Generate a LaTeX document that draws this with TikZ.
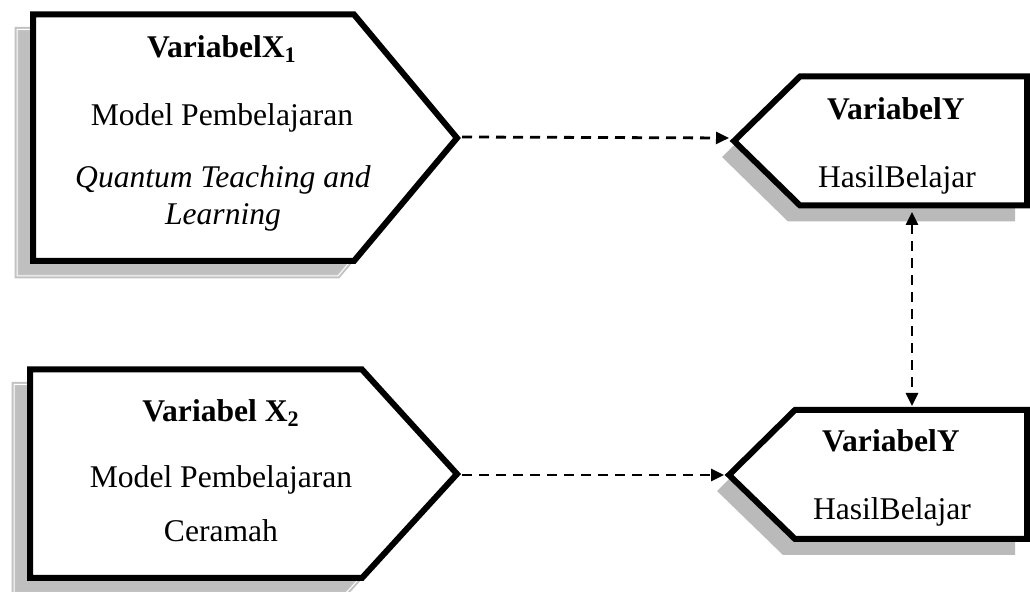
\documentclass[tikz,border=0pt]{standalone}
\usepackage{fontspec}
\setmainfont{Liberation Serif}
\usetikzlibrary{arrows.meta}
\begin{document}
\begin{tikzpicture}[x=0.5pt,y=-0.5pt]
      \tikzstyle{box} = [draw=black, line width=3pt, fill=white, line join=miter]
      \tikzstyle{rim} = [draw=black!24, line width=1pt, double=white, double distance=0.5pt, fill=black!25]
      \tikzstyle{shade} = [fill=black!27]
      \tikzstyle{txt} = [anchor=base, inner sep=0pt, font=\fontsize{15.8pt}{19pt}\selectfont]
      \tikzstyle{edge} = [->, line width=1.4pt, dash pattern=on 5pt off 3.5pt, >={Triangle[length=6.5pt,width=6pt]}]

      \useasboundingbox (0,0) rectangle (1030,592);

      % shadows
      \begin{scope}[shift={(-16,15)}]
        \draw[rim] (33,14.5) -- (354,14.5) -- (457,138) -- (354,261) -- (33,261) -- cycle;
        \draw[rim] (30,369.5) -- (362,369.5) -- (457,474) -- (362,578) -- (30,578) -- cycle;
      \end{scope}
      \begin{scope}[shift={(-12,16)}]
        \fill[shade] (1027,76.5) -- (800,76.5) -- (734,141) -- (800,205.5) -- (1027,205.5) -- cycle;
        \fill[shade] (1027,410) -- (795,410) -- (729,475) -- (795,539) -- (1027,539) -- cycle;
      \end{scope}

      % boxes
      \draw[box] (33,14.5) -- (354,14.5) -- (457,138) -- (354,261) -- (33,261) -- cycle;
      \draw[box] (30,369.5) -- (362,369.5) -- (457,474) -- (362,578) -- (30,578) -- cycle;
      \draw[box] (1027,76.5) -- (800,76.5) -- (734,141) -- (800,205.5) -- (1027,205.5) -- cycle;
      \draw[box] (1027,410) -- (795,410) -- (729,475) -- (795,539) -- (1027,539) -- cycle;

      \coordinate (x1tip) at (462,137);
      \coordinate (x2tip) at (462,475);
      \coordinate (y1tip) at (729,138);
      \coordinate (y2tip) at (724,475);
      \coordinate (y1bot) at (912,212);
      \coordinate (y2top) at (912,406);

      \node[txt] (x1title) at (222,58) {\textbf{VariabelX\textsubscript{1}}};
      \node[txt] (x1model) at (222,126) {Model Pembelajaran};
      \node[txt] (x1qtl) at (223,188) {\textit{Quantum Teaching and}};
      \node[txt] (x1learn) at (223,225) {\textit{Learning}};

      \node[txt] (x2title) at (221,422) {\textbf{Variabel X\textsubscript{2}}};
      \node[txt] (x2model) at (221,488) {Model Pembelajaran};
      \node[txt] (x2ceramah) at (221,542) {Ceramah};

      \node[txt] (y1title) at (896,120) {\textbf{VariabelY}};
      \node[txt] (y1hasil) at (897,188) {HasilBelajar};

      \node[txt] (y2title) at (891,452) {\textbf{VariabelY}};
      \node[txt] (y2hasil) at (892,520) {HasilBelajar};

      \draw[edge] (x1tip) to (y1tip);
      \draw[edge] (x2tip) to (y2tip);
      \draw[edge, <->] (y1bot) to (y2top);
    \end{tikzpicture}
\end{document}
